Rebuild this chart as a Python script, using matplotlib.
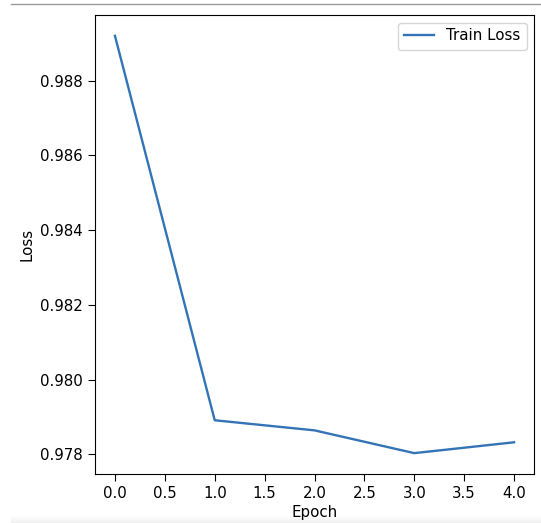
import matplotlib
matplotlib.use("Agg")
import matplotlib.pyplot as plt
import numpy as np
from matplotlib.lines import Line2D

# 训练损失数据
epochs = [0, 1, 2, 3, 4]
train_loss = [0.98920, 0.97891, 0.97864, 0.97803, 0.97832]

plt.rcParams['font.size'] = 10.8
plt.rcParams['xtick.major.size'] = 5
plt.rcParams['ytick.major.size'] = 5

fig = plt.figure(figsize=(5.41, 5.23), dpi=100)
ax = fig.add_axes([95 / 541, 1 - 474 / 523, (534 - 95) / 541, (474 - 15) / 523])

ax.plot(epochs, train_loss, color='#3274b5', linewidth=1.7, label='Train Loss')
ax.set_xlabel('Epoch', labelpad=3)
ax.set_ylabel('Loss')
ax.legend(loc='upper right')

# 截图上方的灰线
fig.add_artist(Line2D([11 / 541, 1], [1 - 4 / 523, 1 - 4 / 523],
                      color='#999999', linewidth=1, transform=fig.transFigure))

# 底部淡灰渐变
grad_ax = fig.add_axes([11 / 541, 0, 1 - 11 / 541, 8 / 523], zorder=-1)
grad = np.linspace(1.0, 0.94, 8).reshape(-1, 1)
grad_ax.imshow(grad, cmap='gray', vmin=0, vmax=1, aspect='auto', extent=[0, 1, 0, 1])
grad_ax.axis('off')

fig.savefig('out.png', dpi=100)
